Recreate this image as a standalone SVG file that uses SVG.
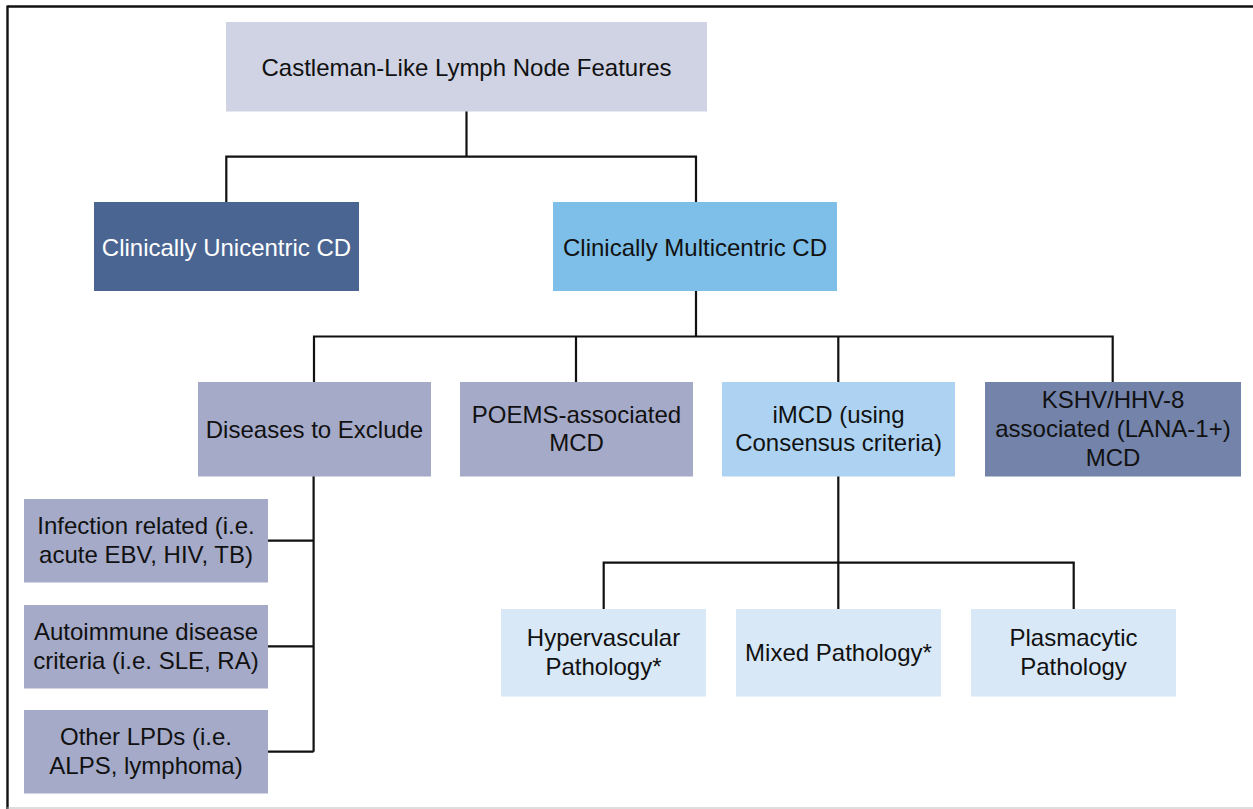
<svg xmlns="http://www.w3.org/2000/svg" width="1253" height="809" viewBox="0 0 1253 809">
<style>
.t{font-family:"Liberation Sans",Arial,sans-serif;font-size:24px;fill:#111;text-anchor:middle}
.w{fill:#fff}
.c{stroke:#111;stroke-width:2.2;fill:none}
</style>
<rect x="0" y="0" width="1253" height="809" fill="#fff"/>
<g id="frame">
<line x1="7.5" y1="6.5" x2="1253" y2="6.5" stroke="#111" stroke-width="2.6"/>
<line x1="7.5" y1="5.5" x2="7.5" y2="809" stroke="#111" stroke-width="2.4"/>
<line x1="7" y1="808" x2="1253" y2="808" stroke="#bbb" stroke-width="1.2"/>
</g>
<g id="connectors">
<path class="c" d="M466.5 111V156.7M226.3 202V156.7H696V202"/>
<path class="c" d="M696 291V336.5M314 382V336.5H1112.7V382M576 336.5V382M838.3 336.5V382"/>
<path class="c" d="M313.6 476V751.7M268 540.7H313.6M268 646.3H313.6M268 751.7H313.6"/>
<path class="c" d="M838.3 476V609M603.7 609V562.7H1073.7V609"/>
</g>
<g id="n-root"><rect x="226" y="22" width="481" height="89.5" fill="#d0d3e3"/><text class="t" x="466.5" y="75.5">Castleman-Like Lymph Node Features</text></g>
<g id="n-uni"><rect x="94" y="202" width="265" height="89" fill="#4a6592"/><text class="t w" x="226.5" y="255.5">Clinically Unicentric CD</text></g>
<g id="n-multi"><rect x="553" y="202" width="284" height="89" fill="#7dbfe8"/><text class="t" x="695" y="255.5">Clinically Multicentric CD</text></g>
<g id="n-excl"><rect x="198" y="382" width="233" height="94.5" fill="#a5aac8"/><text class="t" x="314.5" y="437.5">Diseases to Exclude</text></g>
<g id="n-poems"><rect x="460" y="382" width="233" height="94.5" fill="#a5aac8"/><text class="t" x="576.5" y="422.5">POEMS-associated</text><text class="t" x="576.5" y="450.5">MCD</text></g>
<g id="n-imcd"><rect x="722" y="382" width="233" height="94.5" fill="#aed3f2"/><text class="t" x="838.5" y="422.5">iMCD (using</text><text class="t" x="838.5" y="450.5">Consensus criteria)</text></g>
<g id="n-kshv"><rect x="985" y="382" width="256" height="94.5" fill="#7383aa"/><text class="t" x="1113" y="407.5">KSHV/HHV-8</text><text class="t" x="1113" y="436.5">associated (LANA-1+)</text><text class="t" x="1113" y="465.5">MCD</text></g>
<g id="n-inf"><rect x="24" y="499" width="244" height="83.5" fill="#a5aac8"/><text class="t" x="146" y="534">Infection related (i.e.</text><text class="t" x="146" y="563">acute EBV, HIV, TB)</text></g>
<g id="n-auto"><rect x="24" y="605" width="244" height="83.5" fill="#a5aac8"/><text class="t" x="146" y="639.5">Autoimmune disease</text><text class="t" x="146" y="668.5">criteria (i.e. SLE, RA)</text></g>
<g id="n-lpd"><rect x="24" y="710" width="244" height="83.5" fill="#a5aac8"/><text class="t" x="146" y="744.5">Other LPDs (i.e.</text><text class="t" x="146" y="773.5">ALPS, lymphoma)</text></g>
<g id="n-hyper"><rect x="501" y="609" width="205" height="87.5" fill="#d8e8f6"/><text class="t" x="603.5" y="645.5">Hypervascular</text><text class="t" x="603.5" y="674.5">Pathology*</text></g>
<g id="n-mixed"><rect x="736" y="609" width="205" height="87.5" fill="#d8e8f6"/><text class="t" x="838.5" y="660.5">Mixed Pathology*</text></g>
<g id="n-plasma"><rect x="971" y="609" width="205" height="87.5" fill="#d8e8f6"/><text class="t" x="1073.5" y="645.5">Plasmacytic</text><text class="t" x="1073.5" y="674.5">Pathology</text></g>
</svg>
